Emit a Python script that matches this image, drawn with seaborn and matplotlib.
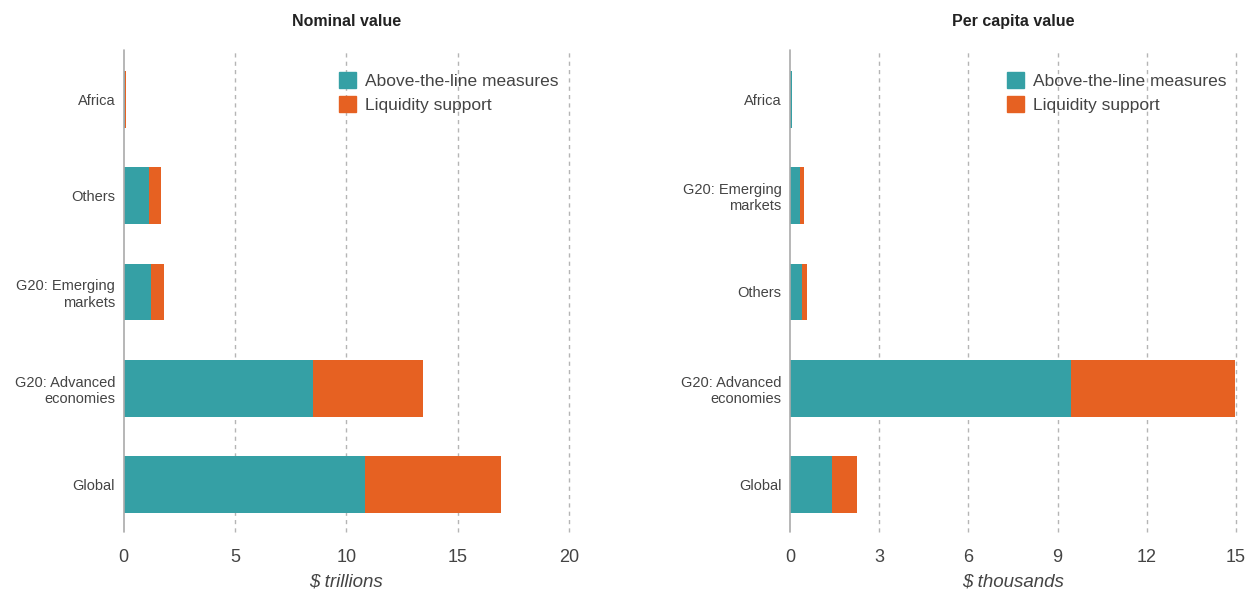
import matplotlib
matplotlib.use("Agg")
import matplotlib.pyplot as plt
import seaborn as sns
import pandas as pd
from matplotlib.patches import Patch

sns.set_theme(style="white")
plt.rcParams['font.family'] = ['Liberation Sans', 'DejaVu Sans']

# Nominal value ($ trillions)
nominal_categories = ["Africa", "Others", "G20: Emerging\nmarkets", "G20: Advanced\neconomies", "Global"]
nominal_above = [0.08, 1.14, 1.23, 8.5, 10.85]
nominal_liquidity = [0.04, 0.54, 0.58, 4.93, 6.08]

# Per capita value ($ thousands)
percap_categories = ["Africa", "G20: Emerging\nmarkets", "Others", "G20: Advanced\neconomies", "Global"]
percap_above = [0.07, 0.34, 0.39, 9.45, 1.40]
percap_liquidity = [0.0, 0.13, 0.18, 5.52, 0.84]

nominal_ticks = [0, 5, 10, 15, 20]
percap_ticks = [0, 3, 6, 9, 12, 15]

TEAL = "#35A0A5"
ORANGE = "#E66122"
TXT = "#444444"

fig = plt.figure(figsize=(12.48, 5.92), dpi=100)
ax1 = fig.add_axes([123.5 / 1248, 60 / 592, 445.5 / 1248, 482 / 592])
ax2 = fig.add_axes([790 / 1248, 60 / 592, 446 / 1248, 482 / 592])


def panel(ax, cats, above, liq, ticks, title, xlabel, legx):
    df = pd.DataFrame({
        "cat": cats,
        "above": above,
        "total": [a + b for a, b in zip(above, liq)],
    })
    sns.barplot(data=df, y="cat", x="total", color=ORANGE, saturation=1,
                width=0.59, order=cats, ax=ax, orient="h", edgecolor="none")
    sns.barplot(data=df, y="cat", x="above", color=TEAL, saturation=1,
                width=0.59, order=cats, ax=ax, orient="h", edgecolor="none")
    ax.set_xlim(ticks[0], ticks[-1])
    ax.set_ylim(4.49, -0.51)
    ax.set_xticks(ticks)
    ax.set_xticklabels([str(t) for t in ticks], fontsize=13, color=TXT)
    ax.tick_params(axis="x", length=0, pad=12)
    ax.tick_params(axis="y", length=0, pad=6, labelsize=10.5, labelcolor=TXT)
    for lbl in ax.get_yticklabels():
        lbl.set_multialignment("right")
    for s in ax.spines.values():
        s.set_visible(False)
    for t in ticks[1:]:
        ax.axvline(t, color="#b5b5b5", lw=1, ls=(0, (3, 3)), zorder=0, clip_on=False)
    ax.axvline(0, color="#aaaaaa", lw=1.2, zorder=5, clip_on=False)
    ax.set_ylabel("")
    ax.set_xlabel(xlabel, fontsize=13.5, style="italic", color=TXT, labelpad=6)
    ax.set_title(title, fontsize=11.5, fontweight="bold", color="#222222", pad=17)
    handles = [Patch(color=TEAL, label="Above-the-line measures"),
               Patch(color=ORANGE, label="Liquidity support")]
    ax.legend(handles=handles, loc="upper left", bbox_to_anchor=(legx, 0.968),
              frameon=False, fontsize=12.5, handlelength=1.0, handleheight=1.0,
              handletextpad=0.5, labelspacing=0.42, borderaxespad=0,
              labelcolor=TXT)


panel(ax1, nominal_categories, nominal_above, nominal_liquidity, nominal_ticks,
      "Nominal value", "$ trillions", 0.468)
panel(ax2, percap_categories, percap_above, percap_liquidity, percap_ticks,
      "Per capita value", "$ thousands", 0.471)

fig.savefig("out.png", dpi=100)
